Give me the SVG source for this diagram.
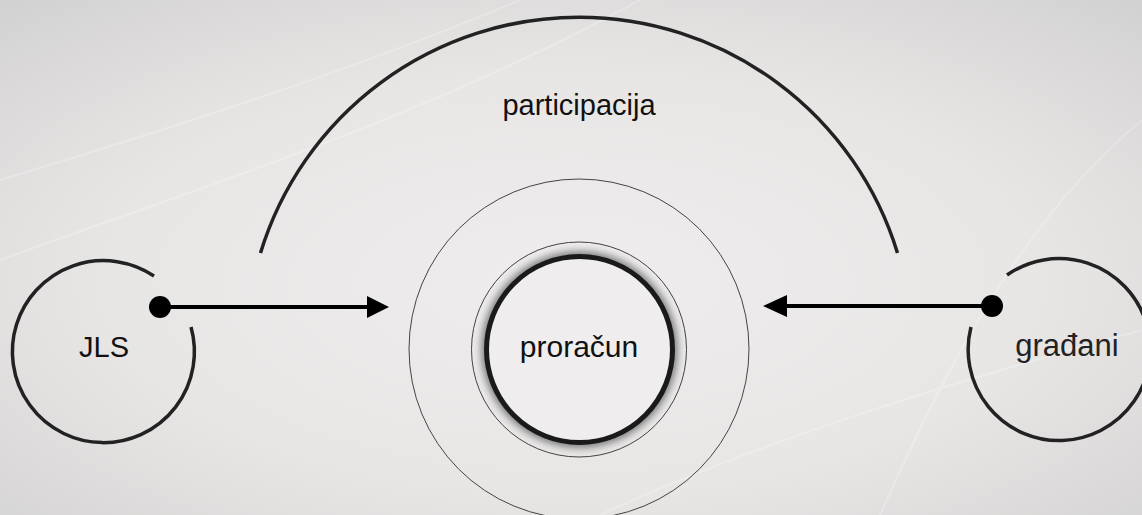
<svg xmlns="http://www.w3.org/2000/svg" width="1142" height="515" viewBox="0 0 1142 515">
  <defs>
    <radialGradient id="bg" cx="0.5" cy="0.55" r="0.75">
      <stop offset="0" stop-color="#efeded"/>
      <stop offset="0.55" stop-color="#e8e6e5"/>
      <stop offset="1" stop-color="#d2d1d1"/>
    </radialGradient>
    <filter id="glow" x="-30%" y="-30%" width="160%" height="160%">
      <feGaussianBlur stdDeviation="4"/>
    </filter>
  </defs>
  <style>
    .lbl { font-family: "Liberation Sans", Arial, sans-serif; font-size: 29px; fill: #111; text-anchor: middle; }
    .ring { fill: none; stroke: #222; stroke-width: 3.5; stroke-linecap: butt; }
    .thin { fill: none; stroke: #444; stroke-width: 1; }
    .conn { fill: none; stroke: #000; stroke-width: 4; }
    .head { fill: #000; }
  </style>

  <rect width="1142" height="515" fill="url(#bg)"/>
  <g opacity="0.22" fill="none" stroke="#ffffff" stroke-width="2">
    <path d="M0,180 C200,120 380,60 520,0"/>
    <path d="M0,260 C220,180 420,120 640,0"/>
    <path d="M880,515 C940,380 1020,220 1142,120"/>
    <path d="M600,515 C760,440 960,380 1142,330"/>
  </g>

  <g id="participacija">
    <path class="ring" d="M 260.5,253 A 333,333 0 0 1 897.5,253"/>
    <text class="lbl" x="579" y="115">participacija</text>
  </g>

  <g id="proracun">
    <circle class="thin" cx="579" cy="349" r="170"/>
    <circle class="thin" cx="579" cy="349.5" r="107.5"/>
    <circle cx="579.5" cy="349.5" r="93" fill="none" stroke="#666" stroke-width="9" filter="url(#glow)"/>
    <circle cx="579.5" cy="349.5" r="93" fill="#efeded" stroke="#1a1a1a" stroke-width="5"/>
    <text class="lbl" x="579" y="357" style="font-size:30px">proračun</text>
  </g>

  <g id="jls">
    <path class="ring" d="M 154,276 A 91,91 0 1 0 191,327"/>
    <text class="lbl" x="104" y="357">JLS</text>
  </g>

  <g id="gradani">
    <path class="ring" d="M 1007,275 A 91,91 0 1 1 971,327"/>
    <text class="lbl" x="1067" y="356" style="font-size:31px;fill:#222">građani</text>
  </g>

  <g id="connectors">
    <line class="conn" x1="160" y1="307" x2="372" y2="307"/>
    <circle class="head" cx="160" cy="307" r="11"/>
    <polygon class="head" points="367,296 389,307 367,318"/>
    <line class="conn" x1="992" y1="306" x2="780" y2="306"/>
    <circle class="head" cx="992" cy="306" r="11"/>
    <polygon class="head" points="787,295 763,306 787,317"/>
  </g>
</svg>
